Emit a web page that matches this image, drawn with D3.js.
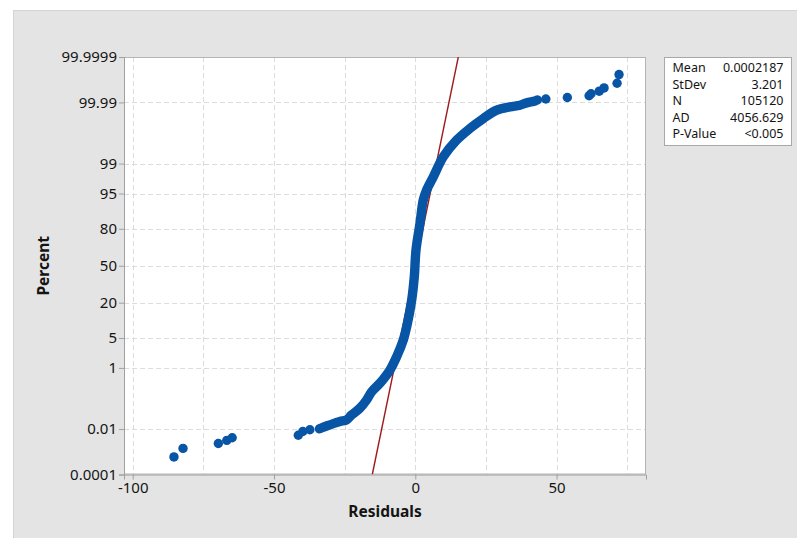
<!DOCTYPE html>
<html>
<head>
<meta charset="utf-8">
<script src="https://cdn.jsdelivr.net/npm/d3@7"></script>
<style>
  html, body { margin: 0; padding: 0; background: #ffffff; }
  svg { display: block; font-family: "Noto Sans", "Open Sans", sans-serif; }
</style>
</head>
<body>
<svg id="chart" width="797" height="538"></svg>
<script>
// Normal probability plot of residuals

// Dense part of the empirical curve: residual vs. cumulative percent
const bandResidual = [-33.9, -32.7, -30.2, -26.7, -24.3, -22.5, -19.6, -17.2, -15.4, -12.5,
  -8.95, -6.58, -4.25, -3.04, -1.27, -0.35, 0.25, 1.66, 2.83, 4.03,
  6.37, 9.91, 14.65, 19.36, 24.06, 28.8, 33.51, 37.05, 39.42, 42.36, 43.2];
const bandPercent = [0.0102, 0.0117, 0.0146, 0.0194, 0.0225, 0.0343, 0.059, 0.113, 0.208, 0.375,
  0.885, 1.93, 4.56, 8.27, 21.8, 40.2, 64.0, 83.3, 93.3, 95.8,
  97.86, 99.345, 99.789, 99.912, 99.96, 99.9802, 99.9852, 99.9872, 99.9896, 99.9912, 99.992];

// Isolated points in both tails
const tailResidual = [-85.4, -82.2, -69.7, -66.7, -64.8, -41.4, -39.8, -37.3,
  46.2, 53.8, 61.5, 62.2, 65.1, 66.8, 71.4, 72.1];
const tailPercent = [0.00067, 0.0016, 0.0026, 0.0035, 0.0045, 0.0057, 0.008, 0.0094,
  99.99268, 99.99363, 99.99458, 99.99553, 99.99648, 99.99743, 99.99838, 99.99933];

// Axis ticks
const residualTicks = [-100, -50, 0, 50];
const residualGrid = [-100, -75, -50, -25, 0, 25, 50, 75];
const percentTicks = [0.0001, 0.01, 1, 5, 20, 50, 80, 95, 99, 99.99, 99.9999];
const percentLabels = ["0.0001", "0.01", "1", "5", "20", "50", "80", "95", "99", "99.99", "99.9999"];

// Summary statistics
const statNames = ["Mean", "StDev", "N", "AD", "P-Value"];
const statValues = ["0.0002187", "3.201", "105120", "4056.629", "<0.005"];
const fitMean = 0.0002187;
const fitStDev = 3.201;

// Inverse standard normal CDF (Acklam)
function probit(p) {
  const a = [-3.969683028665376e+01, 2.209460984245205e+02, -2.759285104469687e+02, 1.383577518672690e+02, -3.066479806614716e+01, 2.506628277459239e+00];
  const b = [-5.447609879822406e+01, 1.615858368580409e+02, -1.556989798598866e+02, 6.680131188771972e+01, -1.328068155288572e+01];
  const c = [-7.784894002430293e-03, -3.223964580411365e-01, -2.400758277161838e+00, -2.549732539343734e+00, 4.374664141464968e+00, 2.938163982698783e+00];
  const d = [7.784695709041462e-03, 3.224671290700398e-01, 2.445134137142996e+00, 3.754408661907416e+00];
  const pl = 0.02425, ph = 1 - pl;
  if (p < pl) {
    const q = Math.sqrt(-2 * Math.log(p));
    return (((((c[0]*q+c[1])*q+c[2])*q+c[3])*q+c[4])*q+c[5]) / ((((d[0]*q+d[1])*q+d[2])*q+d[3])*q+1);
  }
  if (p <= ph) {
    const q = p - 0.5, r = q * q;
    return (((((a[0]*r+a[1])*r+a[2])*r+a[3])*r+a[4])*r+a[5])*q / (((((b[0]*r+b[1])*r+b[2])*r+b[3])*r+b[4])*r+1);
  }
  const q = Math.sqrt(-2 * Math.log(1 - p));
  return -(((((c[0]*q+c[1])*q+c[2])*q+c[3])*q+c[4])*q+c[5]) / ((((d[0]*q+d[1])*q+d[2])*q+d[3])*q+1);
}
const zOf = pct => probit(pct / 100);

const svg = d3.select("#chart");
const plot = { left: 124, top: 57, right: 646, bottom: 474.5 };
const blue = "#0855a6";
const red = "#9e1b1b";
const ink = "#141414";

// Outer panel
svg.append("rect").attr("x", 13.5).attr("y", 10.5).attr("width", 800).attr("height", 540)
  .attr("fill", "#e4e4e4").attr("stroke", "#d4d4d4");

const x = d3.scaleLinear().domain([-103.08, 81.64]).range([plot.left, plot.right]);
const y = d3.scaleLinear().domain([zOf(0.0001), zOf(99.9999)]).range([plot.bottom, plot.top]);

// Plot background
svg.append("rect").attr("x", plot.left).attr("y", plot.top)
  .attr("width", plot.right - plot.left).attr("height", plot.bottom - plot.top)
  .attr("fill", "#ffffff");

// Grid
const grid = svg.append("g").attr("stroke", "#dcdcdc").attr("stroke-width", 1)
  .attr("stroke-dasharray", "5,3").attr("fill", "none");
grid.selectAll("line.v").data(residualGrid).join("line").attr("class", "v")
  .attr("x1", d => Math.round(x(d)) + 0.5).attr("x2", d => Math.round(x(d)) + 0.5)
  .attr("y1", plot.top).attr("y2", plot.bottom);
grid.selectAll("line.h").data(percentTicks).join("line").attr("class", "h")
  .attr("y1", d => Math.round(y(zOf(d))) + 0.5).attr("y2", d => Math.round(y(zOf(d))) + 0.5)
  .attr("x1", plot.left).attr("x2", plot.right);

// Plot frame
svg.append("rect").attr("x", plot.left + 0.5).attr("y", plot.top + 0.5)
  .attr("width", plot.right - plot.left - 1).attr("height", plot.bottom - plot.top - 1)
  .attr("fill", "none").attr("stroke", "#b4b4b4");

// Clip region for data
svg.append("clipPath").attr("id", "plotClip").append("rect")
  .attr("x", plot.left).attr("y", plot.top)
  .attr("width", plot.right - plot.left).attr("height", plot.bottom - plot.top);
const data = svg.append("g").attr("clip-path", "url(#plotClip)");

// Fitted normal line
const fitPercent = [0.0001, 99.9999];
data.append("line")
  .attr("x1", x(fitMean + fitStDev * zOf(fitPercent[0]))).attr("y1", y(zOf(fitPercent[0])))
  .attr("x2", x(fitMean + fitStDev * zOf(fitPercent[1]))).attr("y2", y(zOf(fitPercent[1])))
  .attr("stroke", red).attr("stroke-width", 1.4);

// Dense band of points
const band = bandResidual.map((r, i) => [r, bandPercent[i]]);
data.append("path").datum(band)
  .attr("d", d3.line().x(d => x(d[0])).y(d => y(zOf(d[1]))).curve(d3.curveCatmullRom.alpha(0.5)))
  .attr("fill", "none").attr("stroke", blue).attr("stroke-width", 9.4)
  .attr("stroke-linecap", "round").attr("stroke-linejoin", "round");

// Isolated tail points
const tails = tailResidual.map((r, i) => [r, tailPercent[i]]);
data.selectAll("circle.tail").data(tails).join("circle").attr("class", "tail")
  .attr("cx", d => x(d[0])).attr("cy", d => y(zOf(d[1]))).attr("r", 4.7).attr("fill", blue);

// Axes
const xAxis = d3.axisBottom(x).tickValues(residualTicks).tickSize(5).tickPadding(3)
  .tickFormat(d => String(d));
const gx = svg.append("g").attr("transform", `translate(0,${plot.bottom})`).call(xAxis);
const yAxis = d3.axisLeft(y).tickValues(percentTicks.map(zOf)).tickSize(5).tickPadding(2)
  .tickFormat((d, i) => percentLabels[i]);
const gy = svg.append("g").attr("transform", `translate(${plot.left},0)`).call(yAxis);
[gx, gy].forEach(g => {
  g.select(".domain").attr("stroke", "#a0a0a0");
  g.selectAll(".tick line").attr("stroke", "#a0a0a0");
  g.selectAll(".tick text").attr("font-size", 15).attr("fill", ink)
    .attr("font-family", "'Noto Sans', sans-serif");
});

// Axis titles
svg.append("text").attr("x", (plot.left + plot.right) / 2).attr("y", 517)
  .attr("text-anchor", "middle").attr("font-size", 15.5).attr("font-weight", "bold")
  .attr("fill", ink).text("Residuals");
svg.append("text").attr("transform", `translate(49,${(plot.top + plot.bottom) / 2}) rotate(-90)`)
  .attr("text-anchor", "middle").attr("font-size", 15.5).attr("font-weight", "bold")
  .attr("fill", ink).text("Percent");

// Statistics box
const box = svg.append("g");
box.append("rect").attr("x", 664.5).attr("y", 57.5).attr("width", 127).attr("height", 88)
  .attr("fill", "#ffffff").attr("stroke", "#a8a8a8");
statNames.forEach((name, i) => {
  const by = 72 + i * 16.5;
  box.append("text").attr("x", 672.5).attr("y", by).attr("font-size", 12.5)
    .attr("fill", ink).text(name);
  box.append("text").attr("x", 783.5).attr("y", by).attr("font-size", 12.5)
    .attr("text-anchor", "end").attr("fill", ink).text(statValues[i]);
});
</script>
</body>
</html>
